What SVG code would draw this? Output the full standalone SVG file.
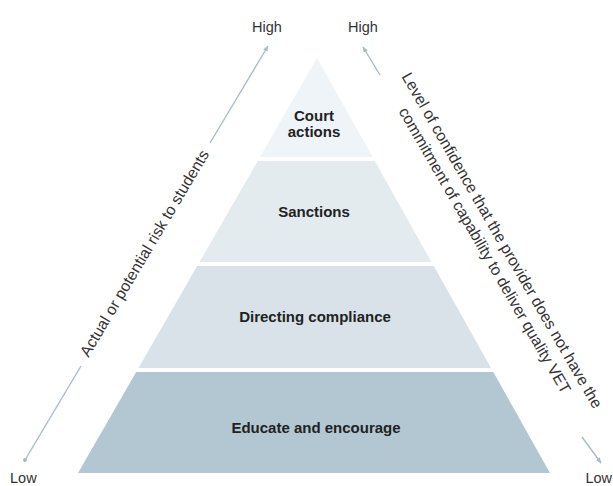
<svg xmlns="http://www.w3.org/2000/svg" width="613" height="486" viewBox="0 0 613 486">
<defs>
<style>
.lbl{font-family:"Liberation Sans",Arial,sans-serif;font-size:14.5px;fill:#333;}
.band-t{font-family:"Liberation Sans",Arial,sans-serif;font-size:15px;font-weight:bold;fill:#222;text-anchor:middle;}
.axis{font-family:"Liberation Sans",Arial,sans-serif;font-size:15.8px;fill:#333;text-anchor:middle;}
.conn{stroke:#a9bcc6;stroke-width:1.4;fill:none;}
</style>
<marker id="arr" viewBox="0 0 10 10" refX="9" refY="5" markerWidth="6" markerHeight="6" orient="auto" markerUnits="userSpaceOnUse">
<path d="M0,1 L10,5 L0,9 Z" fill="#a9bcc6"/>
</marker>
<marker id="dot" viewBox="0 0 10 10" refX="5" refY="5" markerWidth="5" markerHeight="5" orient="auto" markerUnits="userSpaceOnUse">
<circle cx="5" cy="5" r="4" fill="#a9bcc6"/>
</marker>
</defs>
<rect width="613" height="486" fill="#fff"/>
<g id="court">
<polygon points="317,58 372.6,157 260,157" fill="#eef4f7"/>
<text class="band-t" x="314" y="121">Court</text>
<text class="band-t" x="314" y="137">actions</text>
</g>
<g id="sanctions">
<polygon points="257.7,161 374.8,161 431.5,262 199.5,262" fill="#e4ebef"/>
<text class="band-t" x="314" y="217">Sanctions</text>
</g>
<g id="directing">
<polygon points="197.2,266 433.8,266 491,368 138.5,368" fill="#d8e2e8"/>
<text class="band-t" x="315" y="322">Directing compliance</text>
</g>
<g id="educate">
<polygon points="136.2,372 493.3,372 550,473 78,473" fill="#b3c7d2"/>
<text class="band-t" x="316" y="433">Educate and encourage</text>
</g>
<g id="connectors">
<line class="conn" x1="25" y1="460" x2="81" y2="366" marker-start="url(#dot)"/>
<line class="conn" x1="210" y1="143" x2="268" y2="46" marker-end="url(#arr)"/>
<line class="conn" x1="380" y1="75" x2="363" y2="47" marker-end="url(#arr)"/>
<line class="conn" x1="582" y1="437" x2="601" y2="463" marker-end="url(#arr)"/>
</g>
<g id="labels">
<text class="lbl" x="267" y="32" text-anchor="middle">High</text>
<text class="lbl" x="363" y="32" text-anchor="middle">High</text>
<text class="lbl" x="10" y="483">Low</text>
<text class="lbl" x="612" y="483" text-anchor="end">Low</text>
<text class="axis" transform="translate(149,256) rotate(-59.3)">Actual or potential risk to students</text>
<text class="axis" transform="translate(494,245) rotate(60)"><tspan x="0" y="-4">Level of confidence that the provider does not have the</tspan><tspan x="0" y="16">commitment of capability to deliver quality VET</tspan></text>
</g>
</svg>
